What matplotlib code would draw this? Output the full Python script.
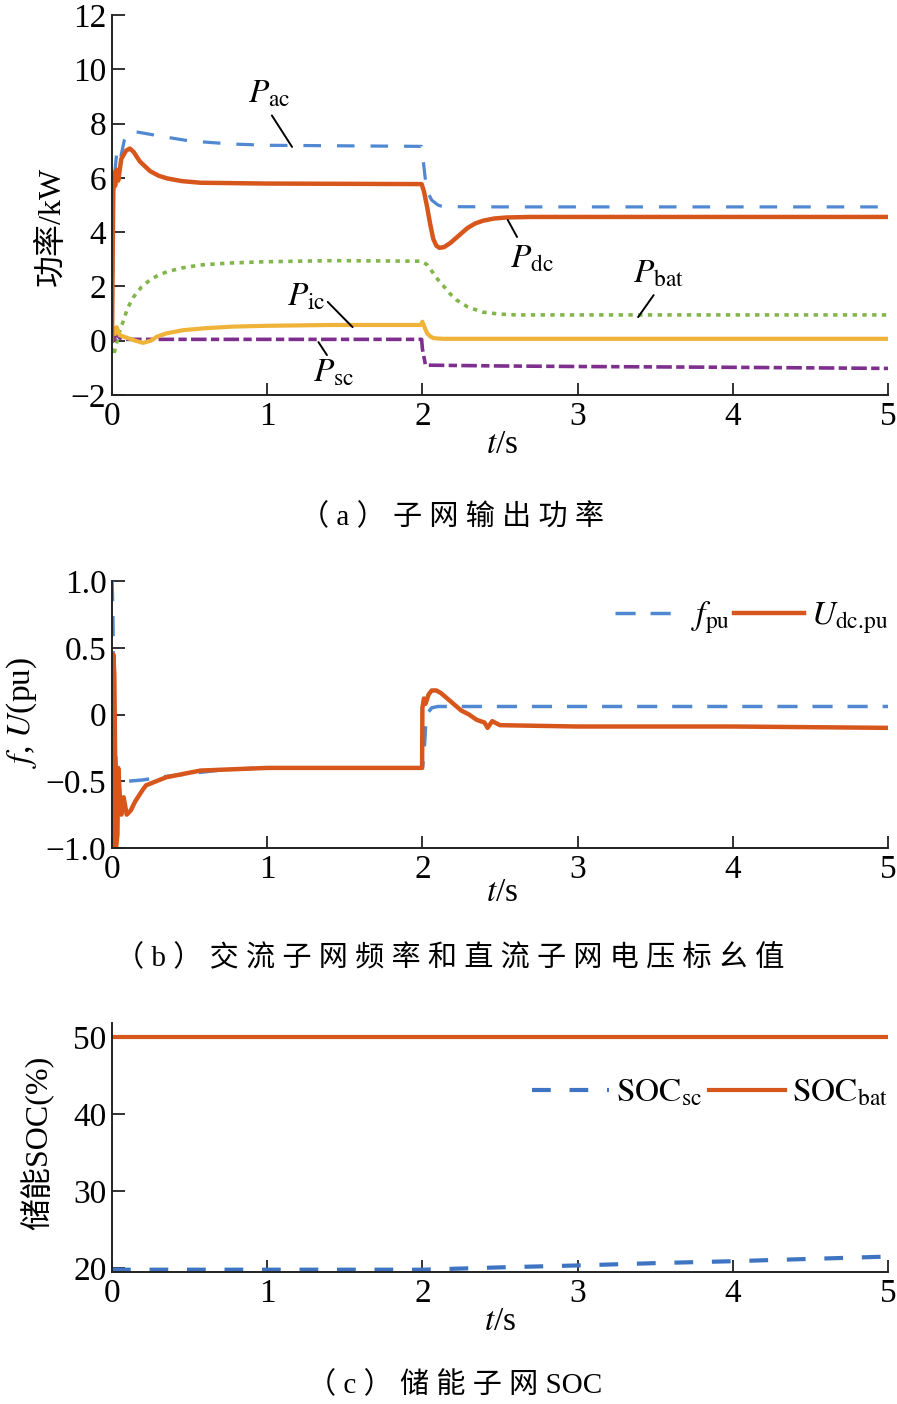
import matplotlib
matplotlib.use("Agg")
import matplotlib.pyplot as plt

plt.rcParams['font.family'] = ['Liberation Serif', 'Noto Sans CJK SC', 'DejaVu Sans']
plt.rcParams['mathtext.fontset'] = 'stix'
plt.rcParams['axes.unicode_minus'] = True

# ---------------- data: panel (a) ----------------
t_ac = [0, 0.01, 0.02, 0.03, 0.05, 0.08, 0.1, 0.13, 0.2, 0.35, 0.5, 0.76, 1.0, 1.5, 1.995, 2.0, 2.02, 2.04, 2.06, 2.1, 2.13, 2.5, 3.0, 4.0, 5.0]
p_ac = [0, 5.5, 6.3, 6.9, 6.6, 7.4, 7.6, 7.72, 7.65, 7.5, 7.36, 7.25, 7.2, 7.18, 7.16, 6.9, 5.9, 5.4, 5.18, 5.0, 4.94, 4.93, 4.93, 4.93, 4.93]

t_dc = [0, 0.008, 0.015, 0.02, 0.03, 0.04, 0.06, 0.09, 0.115, 0.14, 0.18, 0.245, 0.3, 0.355, 0.45, 0.57, 1.0, 1.5, 1.995, 2.01, 2.03, 2.05, 2.07, 2.09, 2.11, 2.14, 2.18, 2.23, 2.29, 2.34, 2.39, 2.46, 2.54, 2.7, 3.0, 4.0, 5.0]
p_dc = [0, 5.5, 6.2, 5.7, 6.3, 5.9, 6.7, 7.0, 7.08, 6.95, 6.6, 6.25, 6.08, 5.98, 5.88, 5.82, 5.79, 5.78, 5.77, 5.5, 4.94, 4.3, 3.75, 3.5, 3.42, 3.45, 3.6, 3.85, 4.15, 4.32, 4.42, 4.5, 4.54, 4.56, 4.56, 4.56, 4.56]

t_bat = [0, 0.01, 0.03, 0.05, 0.075, 0.1, 0.14, 0.19, 0.245, 0.3, 0.355, 0.45, 0.57, 0.75, 0.99, 1.42, 1.995, 2.03, 2.07, 2.1, 2.14, 2.18, 2.22, 2.29, 2.39, 2.5, 2.61, 3.0, 4.0, 5.0]
p_bat = [-0.3, -0.55, -0.08, 0.35, 0.76, 1.2, 1.62, 1.98, 2.24, 2.42, 2.54, 2.68, 2.79, 2.86, 2.91, 2.95, 2.93, 2.8, 2.49, 2.25, 1.99, 1.72, 1.5, 1.25, 1.05, 0.98, 0.95, 0.95, 0.95, 0.95]

t_ic = [0, 0.01, 0.02, 0.03, 0.05, 0.1, 0.15, 0.2, 0.25, 0.29, 0.35, 0.46, 0.6, 0.78, 1.0, 1.42, 1.99, 2.0, 2.01, 2.03, 2.05, 2.07, 2.1, 2.14, 3.0, 4.0, 5.0]
p_ic = [0.2, 0.45, 0.25, 0.5, 0.2, 0.1, 0.0, -0.08, 0.0, 0.15, 0.27, 0.39, 0.46, 0.52, 0.55, 0.58, 0.58, 0.7, 0.55, 0.28, 0.16, 0.1, 0.08, 0.07, 0.07, 0.07, 0.07]

t_sc = [0, 0.01, 0.02, 0.03, 0.05, 0.08, 0.5, 1.0, 1.5, 1.995, 2.0, 2.02, 2.5, 3.0, 4.0, 5.0]
p_sc = [0.0, 0.3, 0.05, 0.25, 0.1, 0.05, 0.05, 0.05, 0.05, 0.05, -0.3, -0.9, -0.93, -0.95, -0.98, -1.02]

# ---------------- data: panel (b) ----------------
t_f = [0, 0.005, 0.01, 0.02, 0.03, 0.05, 0.1, 0.2, 0.31, 0.52, 0.74, 1.0, 1.5, 2.0, 2.01, 2.02, 2.04, 2.06, 2.1, 3.0, 4.0, 5.0]
f_pu = [1.0, 0.8, 0.3, -0.2, -0.45, -0.5, -0.5, -0.49, -0.47, -0.44, -0.41, -0.4, -0.4, -0.4, -0.3, -0.1, 0.02, 0.05, 0.06, 0.06, 0.06, 0.06]

t_u = [0, 0.003, 0.008, 0.015, 0.02, 0.025, 0.035, 0.04, 0.05, 0.06, 0.075, 0.095, 0.12, 0.15, 0.2, 0.22, 0.35, 0.57, 1.0, 1.5, 1.998, 2.0, 2.01, 2.02, 2.04, 2.06, 2.09, 2.12, 2.16, 2.2, 2.25, 2.3, 2.35, 2.4, 2.42, 2.45, 2.5, 3.0, 4.0, 5.0]
u_dc = [0.0, -1.0, 0.45, 0.3, -0.3, -1.0, -0.9, -0.4, -0.6, -0.75, -0.62, -0.75, -0.72, -0.65, -0.56, -0.53, -0.47, -0.42, -0.4, -0.4, -0.4, 0.05, 0.12, 0.08, 0.15, 0.18, 0.18, 0.16, 0.12, 0.08, 0.03, 0.0, -0.04, -0.06, -0.1, -0.05, -0.08, -0.09, -0.09, -0.1]

# ---------------- data: panel (c) ----------------
t_soc = [0, 1, 2, 2.5, 3, 3.5, 4, 4.5, 5]
soc_sc = [19.8, 19.8, 19.8, 20.1, 20.35, 20.65, 20.9, 21.2, 21.5]
t_bat_soc = [0, 5]
soc_bat = [50.0, 50.0]

x_ticks = [0, 1, 2, 3, 4, 5]

C_BLUE = '#5088D2'
C_ORANGE = '#D6561C'
C_GREEN = '#82B54A'
C_YELLOW = '#F0B33A'
C_PURPLE = '#7E2F8E'

W, H = 897, 1404
fig = plt.figure(figsize=(W / 100, H / 100), dpi=100)


def add_ax(left, top, right, bottom):
    return fig.add_axes([left / W, 1 - bottom / H, (right - left) / W, (bottom - top) / H])


def style(ax):
    for s in ['top', 'right']:
        ax.spines[s].set_visible(False)
    for s in ['left', 'bottom']:
        ax.spines[s].set_linewidth(1.4)
        ax.spines[s].set_color('#222222')
    ax.tick_params(direction='in', length=9, width=1.3, labelsize=24, color='#222222')
    ax.tick_params(axis='x', pad=5)
    ax.tick_params(axis='y', pad=4)
    ax.set_xlim(0, 5)
    ax.set_xticks(x_ticks)
    ax.set_xticklabels([str(v) for v in x_ticks])


def ftext(x, y, s, **kw):
    fig.text(x / W, 1 - y / H, s, **kw)


def spaced(s):
    return ' '.join(list(s))

# ---------------- panel (a) ----------------
ax1 = add_ax(112, 15, 888, 395)
style(ax1)
ax1.plot(t_ac, p_ac, color=C_BLUE, lw=2.3, ls=(0, (5.5, 5)))
ax1.plot(t_bat, p_bat, color=C_GREEN, lw=2.6, ls=(0, (1.2, 1.5)))
ax1.plot(t_sc, p_sc, color=C_PURPLE, lw=2.6, ls=(0, (4.3, 1.2, 2.3, 1.2)))
ax1.plot(t_ic, p_ic, color=C_YELLOW, lw=3.0)
ax1.plot(t_dc, p_dc, color=C_ORANGE, lw=3.2)
ax1.set_ylim(-2, 12)
ax1.set_yticks([-2, 0, 2, 4, 6, 8, 10, 12])

lbl_kw = dict(fontsize=24, ha='left', va='baseline')
line_kw = dict(arrowprops=dict(arrowstyle='-', lw=1.4, color='black', shrinkA=0, shrinkB=0))
ax1.text(0.876, 8.79, r'$P_{\mathrm{ac}}$', **lbl_kw)
ax1.annotate('', xy=(1.16, 7.14), xytext=(1.03, 8.3), **line_kw)
ax1.text(2.565, 2.71, r'$P_{\mathrm{dc}}$', **lbl_kw)
ax1.annotate('', xy=(2.61, 3.82), xytext=(2.55, 4.45), **line_kw)
ax1.text(3.36, 2.16, r'$P_{\mathrm{bat}}$', **lbl_kw)
ax1.annotate('', xy=(3.39, 0.87), xytext=(3.49, 1.68), **line_kw)
ax1.text(1.13, 1.31, r'$P_{\mathrm{ic}}$', **lbl_kw)
ax1.annotate('', xy=(1.55, 0.5), xytext=(1.39, 1.43), **line_kw)
ax1.text(1.295, -1.52, r'$P_{\mathrm{sc}}$', **lbl_kw)
ax1.annotate('', xy=(1.385, -0.53), xytext=(1.33, -0.05), **line_kw)

ftext(52, 226, '功率/kW', rotation=90, ha='center', va='center', fontsize=23)
ftext(502, 445, r'$t$/s', ha='center', va='center', fontsize=24)
ftext(452, 517, spaced('（a）子网输出功率'), ha='center', va='center', fontsize=21)

# ---------------- panel (b) ----------------
ax2 = add_ax(112, 581, 888, 848)
style(ax2)
ax2.plot(t_f, f_pu, color=C_BLUE, lw=2.5, ls=(0, (5.8, 4.3)), label=r'$f_{\mathrm{pu}}$')
ax2.plot(t_u, u_dc, color=C_ORANGE, lw=3.2, label=r'$U_{\mathrm{dc.}\!\mathrm{pu}}$')
ax2.set_ylim(-1, 1)
ax2.set_yticks([-1, -0.5, 0, 0.5, 1])
ax2.set_yticklabels(['\u22121.0', '\u22120.5', '0', '0.5', '1.0'])
ax2.legend(loc='upper right', bbox_to_anchor=(1.0, 0.93), ncol=2, frameon=False,
           fontsize=24, handlelength=2.1, handletextpad=0.2, columnspacing=0.1,
           borderpad=0, borderaxespad=0)
ftext(22, 712, r'$f$, $U$(pu)', rotation=90, ha='center', va='center', fontsize=24)
ftext(502, 893, r'$t$/s', ha='center', va='center', fontsize=24)
ftext(450, 958, spaced('（b）交流子网频率和直流子网电压标幺值'), ha='center', va='center', fontsize=21)

# ---------------- panel (c) ----------------
ax3 = add_ax(112, 1023, 888, 1272)
style(ax3)
ax3.plot(t_soc, soc_sc, color='#3F74C2', lw=3.0, ls=(0, (4.5, 4.5)), label=r'$\mathrm{SOC}_{\mathrm{sc}}$')
ax3.plot(t_bat_soc, soc_bat, color=C_ORANGE, lw=3.0, label=r'$\mathrm{SOC}_{\mathrm{bat}}$')
ax3.set_ylim(19.5, 51.8)
ax3.set_yticks([20, 30, 40, 50])
ax3.legend(loc='upper right', bbox_to_anchor=(1.0, 0.78), ncol=2, frameon=False,
           fontsize=24, handlelength=2.3, handletextpad=0.2, columnspacing=0.2,
           borderpad=0, borderaxespad=0)
ftext(38, 1143, '储能SOC(%)', rotation=90, ha='center', va='center', fontsize=23)
ftext(500, 1322, r'$t$/s', ha='center', va='center', fontsize=24)
ftext(455, 1385, spaced('（c）储能子网') + ' SOC', ha='center', va='center', fontsize=21)

fig.savefig('out.png', dpi=100)
